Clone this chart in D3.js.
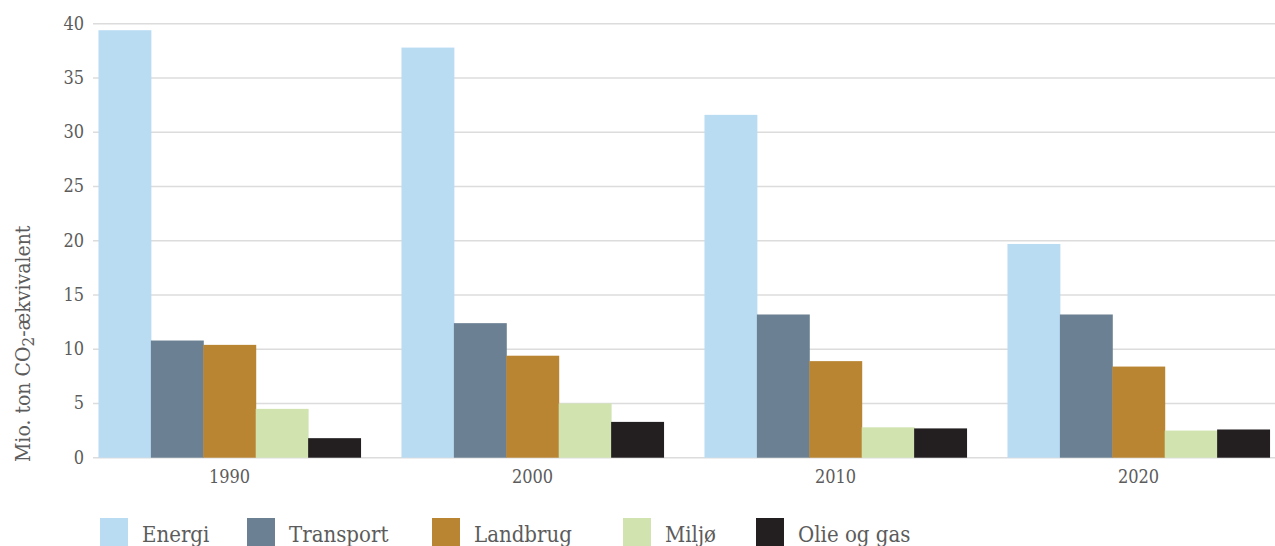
<!DOCTYPE html>
<html lang="da">
<head>
    <meta charset="UTF-8">
    <title>Udledning fordelt på sektorer</title>
    <script src="https://d3js.org/d3.v7.min.js"></script>
    <style>
        body { margin: 0; background: #fff; }
        svg { display: block; }
        text { font-family: "DejaVu Serif Condensed", "DejaVu Serif", serif; fill: #5c5c5c; }
    </style>
</head>
<body>
    <svg id="chart"></svg>
    <script>
        // data
        const years = ["1990", "2000", "2010", "2020"];
        const sectors = ["Energi", "Transport", "Landbrug", "Miljø", "Olie og gas"];
        const energi = [39.4, 37.8, 31.6, 19.7];
        const transport = [10.8, 12.4, 13.2, 13.2];
        const landbrug = [10.4, 9.4, 8.9, 8.4];
        const miljo = [4.5, 5.0, 2.8, 2.5];
        const olie = [1.8, 3.3, 2.7, 2.6];
        const yTicks = [0, 5, 10, 15, 20, 25, 30, 35, 40];
        const colors = ["#badcf3", "#6b8193", "#b98532", "#d1e4b0", "#231f20"];

        const series = [energi, transport, landbrug, miljo, olie];

        const width = 1275, height = 546;
        const svg = d3.select("#chart").attr("width", width).attr("height", height);

        const y = d3.scaleLinear().domain([0, 40]).range([457.7, 23.7]);
        const x0 = d3.scaleBand().domain(years).range([78, 1290]).paddingInner(0.135).paddingOuter(0.0675);
        const x1 = d3.scaleBand().domain(sectors).range([0, x0.bandwidth()]);
        const color = d3.scaleOrdinal().domain(sectors).range(colors);

        // grid lines
        svg.append("g")
            .selectAll("line")
            .data(yTicks)
            .enter().append("line")
            .attr("x1", 93).attr("x2", width)
            .attr("y1", d => y(d)).attr("y2", d => y(d))
            .style("stroke", "#dcdcdc")
            .style("stroke-width", 1.5);

        // y axis labels
        const yAxis = svg.append("g")
            .attr("transform", "translate(84,0)")
            .call(d3.axisLeft(y).tickValues(yTicks).tickSize(0).tickPadding(0));
        yAxis.select(".domain").remove();
        yAxis.selectAll("text")
            .style("font-size", "18px")
            .style("font-family", "'DejaVu Serif Condensed', serif")
            .attr("fill", "#5c5c5c")
            .attr("dy", "0.3em");

        // bars
        const groups = svg.append("g")
            .selectAll("g")
            .data(years)
            .enter().append("g")
            .attr("transform", d => "translate(" + x0(d) + ",0)");

        groups.selectAll("rect")
            .data((d, i) => sectors.map((s, j) => ({ sector: s, value: series[j][i] })))
            .enter().append("rect")
            .attr("x", d => x1(d.sector))
            .attr("width", x1.bandwidth() + 0.5)
            .attr("y", d => y(d.value))
            .attr("height", d => y(0) - y(d.value))
            .style("fill", d => color(d.sector));

        // x axis labels
        const xAxis = svg.append("g")
            .attr("transform", "translate(0," + 470 + ")")
            .call(d3.axisBottom(x0).tickSize(0).tickPadding(0));
        xAxis.select(".domain").remove();
        xAxis.selectAll("text")
            .style("font-size", "18px")
            .style("font-family", "'DejaVu Serif Condensed', serif")
            .attr("fill", "#5c5c5c");

        // y title
        const title = svg.append("text")
            .attr("transform", "translate(30,462) rotate(-90)")
            .attr("text-anchor", "start")
            .style("font-size", "21px");
        title.append("tspan").text("Mio. ton CO");
        title.append("tspan").attr("baseline-shift", "-25%").style("font-size", "17px").text("2");
        title.append("tspan").text("-ækvivalent");

        // legend
        const legendX = d3.scaleOrdinal().domain(sectors).range([100, 247, 432, 623, 756]);
        const legend = svg.append("g")
            .selectAll("g")
            .data(sectors)
            .enter().append("g")
            .attr("transform", d => "translate(" + legendX(d) + ",518)");
        legend.append("rect")
            .attr("width", 28).attr("height", 30)
            .style("fill", d => color(d));
        legend.append("text")
            .attr("x", 42).attr("y", 24)
            .style("font-size", "22px")
            .attr("fill", "#4a4a4a")
            .text(d => d);
    </script>
</body>
</html>
